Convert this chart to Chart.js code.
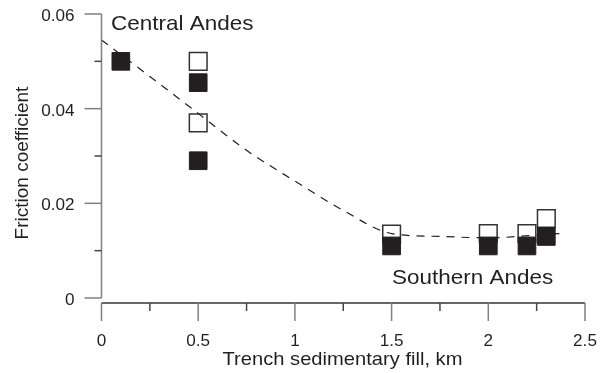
<!DOCTYPE html>
<html>
<head>
<meta charset="utf-8">
<script src="https://cdn.jsdelivr.net/npm/chart.js@4.4.1/dist/chart.umd.min.js"></script>
<style>
  html, body { margin: 0; padding: 0; background: #fff; }
  #wrap { width: 604px; height: 373px; }
</style>
</head>
<body>
<div id="wrap"><canvas id="chart" width="604" height="373"></canvas></div>
<script>
// filled squares
const filledX = [0.1, 0.5, 0.5, 1.5, 2.0, 2.2, 2.3];
const filledY = [0.050, 0.0455, 0.029, 0.011, 0.011, 0.011, 0.013];
// open squares
const openX = [0.5, 0.5, 1.5, 2.0, 2.2, 2.3];
const openY = [0.050, 0.037, 0.0135, 0.0136, 0.0136, 0.0168];
// dashed trend curve
const curveX = [0, 0.25, 0.5, 0.75, 1.0, 1.25, 1.5, 1.75, 2.0, 2.25, 2.4];
const curveY = [0.0545, 0.0468, 0.039, 0.0312, 0.0247, 0.0185, 0.0136, 0.0130, 0.0127, 0.0133, 0.0137];

const xTicks = [0, 0.5, 1, 1.5, 2, 2.5];
const xTickLabels = ['0', '0.5', '1', '1.5', '2', '2.5'];
const xMinor = [0.25, 0.75, 1.25, 1.75, 2.25];
const yTicks = [0, 0.02, 0.04, 0.06];
const yTickLabels = ['0', '0.02', '0.04', '0.06'];
const yMinor = [0.01, 0.03, 0.05];

const ink = '#231f20';
const axisGray = '#808080';
const fontFam = '"Liberation Sans", Arial, sans-serif';

function pts(xs, ys) {
  return xs.map((x, i) => ({ x: x, y: ys[i] }));
}

function text(ctx, s, x, y, align, size, sx) {
  ctx.save();
  ctx.translate(x, y);
  ctx.scale(sx, 1);
  ctx.font = size + 'px ' + fontFam;
  ctx.textAlign = align;
  ctx.fillText(s, 0, 0);
  ctx.restore();
}

const axesPlugin = {
  id: 'axesPlugin',
  afterDraw(chart) {
    const ctx = chart.ctx;
    const xs = chart.scales.x;
    const ys = chart.scales.y;
    const x0 = xs.getPixelForValue(0);
    const xAxisY = chart.chartArea.bottom;

    ctx.save();
    ctx.strokeStyle = axisGray;
    ctx.lineWidth = 1.5;

    // y axis
    ctx.beginPath();
    ctx.moveTo(x0, ys.getPixelForValue(0.06));
    ctx.lineTo(x0, ys.getPixelForValue(0));
    ctx.stroke();
    yTicks.forEach(v => {
      const p = ys.getPixelForValue(v);
      ctx.beginPath(); ctx.moveTo(x0 - 17, p); ctx.lineTo(x0, p); ctx.stroke();
    });
    ctx.strokeStyle = '#444';
    yMinor.forEach(v => {
      const p = ys.getPixelForValue(v);
      ctx.beginPath(); ctx.moveTo(x0 - 7, p); ctx.lineTo(x0, p); ctx.stroke();
    });

    // x axis
    ctx.strokeStyle = '#333';
    ctx.beginPath();
    ctx.moveTo(x0, xAxisY);
    ctx.lineTo(xs.getPixelForValue(2.5), xAxisY);
    ctx.stroke();
    ctx.strokeStyle = axisGray;
    xTicks.forEach(v => {
      const p = xs.getPixelForValue(v);
      ctx.beginPath(); ctx.moveTo(p, xAxisY); ctx.lineTo(p, xAxisY + 18); ctx.stroke();
    });
    ctx.strokeStyle = '#444';
    xMinor.forEach(v => {
      const p = xs.getPixelForValue(v);
      ctx.beginPath(); ctx.moveTo(p, xAxisY); ctx.lineTo(p, xAxisY + 8); ctx.stroke();
    });

    // labels
    ctx.fillStyle = ink;
    ctx.textBaseline = 'alphabetic';
    yTicks.forEach((v, i) => {
      text(ctx, yTickLabels[i], x0 - 27, ys.getPixelForValue(v) + 7, 'right', 16, 1.07);
    });
    xTicks.forEach((v, i) => {
      text(ctx, xTickLabels[i], xs.getPixelForValue(v), xAxisY + 43, 'center', 16, 1.07);
    });
    text(ctx, 'Trench sedimentary fill, km', 342.5, 364.5, 'center', 19, 1.06);

    ctx.save();
    ctx.translate(28, 163);
    ctx.rotate(-Math.PI / 2);
    ctx.font = '19px ' + fontFam;
    ctx.textAlign = 'center';
    ctx.fillText('Friction coefficient', 0, 0);
    ctx.restore();

    // annotations
    text(ctx, 'Central Andes', x0 + 9.5, ys.getPixelForValue(0.0567), 'left', 21, 1.07);
    text(ctx, 'Southern Andes', xs.getPixelForValue(1.502), ys.getPixelForValue(0.0029), 'left', 21, 1.07);
    ctx.restore();
  }
};

new Chart(document.getElementById('chart'), {
  type: 'scatter',
  data: {
    datasets: [
      {
        label: 'open',
        data: pts(openX, openY),
        pointStyle: 'rect',
        pointRadius: 12.5,
        pointBackgroundColor: '#fff',
        pointBorderColor: '#333',
        pointBorderWidth: 1.5,
        showLine: false,
        order: 3,
        clip: false
      },
      {
        label: 'curve',
        type: 'line',
        data: pts(curveX, curveY),
        borderColor: ink,
        borderWidth: 1.2,
        borderDash: [8, 7],
        pointRadius: 0,
        fill: false,
        tension: 0.4,
        cubicInterpolationMode: 'monotone',
        order: 2,
        clip: false
      },
      {
        label: 'filled',
        data: pts(filledX, filledY),
        pointStyle: 'rect',
        pointRadius: 12.5,
        pointBackgroundColor: ink,
        pointBorderColor: ink,
        pointBorderWidth: 1,
        showLine: false,
        order: 1,
        clip: false
      }
    ]
  },
  options: {
    responsive: false,
    animation: false,
    layout: { padding: { left: 101.5, right: 19, top: 14, bottom: 70 } },
    plugins: { legend: { display: false }, tooltip: { enabled: false } },
    scales: {
      x: { type: 'linear', min: 0, max: 2.5, display: false },
      y: { type: 'linear', min: -0.00106, max: 0.06, display: false }
    }
  },
  plugins: [axesPlugin]
});
</script>
</body>
</html>
